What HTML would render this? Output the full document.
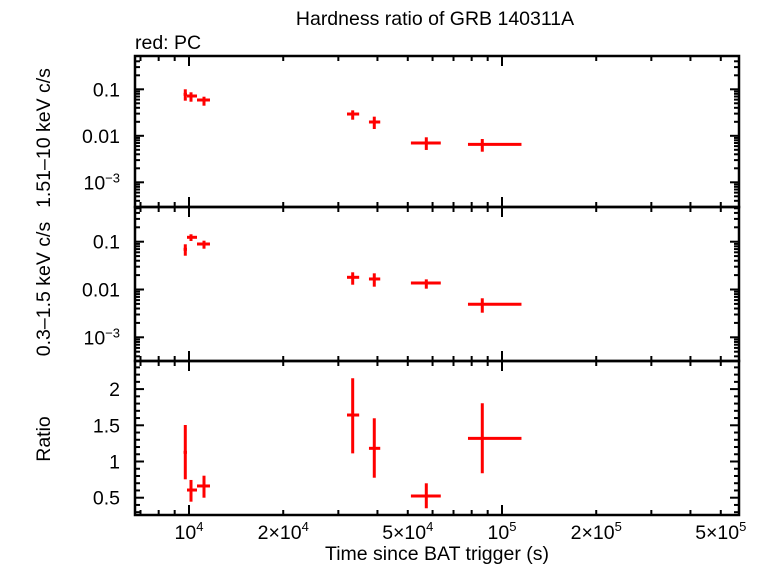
<!DOCTYPE html>
<html><head><meta charset="utf-8"><style>
html,body{margin:0;padding:0;background:#fff}
svg{display:block;font-family:"Liberation Sans",sans-serif}
</style></head><body>
<svg id="chart" width="761" height="566" viewBox="0 0 761 566" xmlns="http://www.w3.org/2000/svg">
<text x="435" y="25" font-size="19.5" text-anchor="middle">Hardness ratio of GRB 140311A</text>
<text x="135" y="49" font-size="19.5">red: PC</text>
<text transform="translate(50,138) rotate(-90)" font-size="19.5" text-anchor="middle">1.51–10 keV c/s</text>
<text transform="translate(50,289) rotate(-90)" font-size="19.5" text-anchor="middle">0.3–1.5 keV c/s</text>
<text transform="translate(50,439) rotate(-90)" font-size="19.5" text-anchor="middle">Ratio</text>
<text x="437" y="560" font-size="19.5" text-anchor="middle">Time since BAT trigger (s)</text>
<g id="g"></g>
</svg>
<script>
const times=[9731,10148,11166,33340,39080,57300,86500];
const timeLo=[9610,9854,10606,31970,37580,51170,77860];
const timeHi=[9854,10606,11669,34970,40830,63740,115400];
const hard=[0.078,0.0718,0.0589,0.0294,0.0198,0.0070,0.00656];
const hardLo=[0.0569,0.0541,0.0444,0.0222,0.0140,0.00496,0.00455];
const hardHi=[0.1,0.0862,0.0693,0.0353,0.0258,0.00929,0.00853];
const soft=[0.0693,0.1236,0.0895,0.018,0.0166,0.0137,0.0049];
const softLo=[0.0509,0.1035,0.0714,0.0126,0.01146,0.0104,0.00327];
const softHi=[0.0883,0.143,0.105,0.0229,0.0218,0.0163,0.00655];
const ratio=[1.127,0.606,0.662,1.642,1.182,0.523,1.32];
const ratioLo=[0.754,0.445,0.5,1.113,0.776,0.354,0.837];
const ratioHi=[1.504,0.745,0.804,2.149,1.597,0.699,1.804];
const xTickVals=[1e4,2e4,5e4,1e5,2e5,5e5];
const xTickLabels=[["10","4"],["2×10","4"],["5×10","4"],["10","5"],["2×10","5"],["5×10","5"]];
const logTickVals=[0.1,0.01,0.001];
const logTickLabels=["0.1","0.01","10^-3"];
const ratioTickVals=[0.5,1,1.5,2];
const ratioTickLabels=["0.5","1","1.5","2"];

const NS="http://www.w3.org/2000/svg";
const G=document.getElementById('g');
const L=135,R=739;
const P=[{t:56,b:207},{t:207,b:361},{t:361,b:515}];
const FS=19.5, SUP=13;
function X(t){return 189+(Math.log10(t)-4)*313;}
function Yh(v){return 89.3-(Math.log10(v)+1)*46.5;}
function Ys(v){return 241.7-(Math.log10(v)+1)*47.8;}
function Yr(v){return 497.7-(v-0.5)*72.4;}
function mk(tag,at){const e=document.createElementNS(NS,tag);for(const k in at)e.setAttribute(k,at[k]);G.appendChild(e);return e;}
function line(x1,y1,x2,y2,c,w){return mk('line',{x1,y1,x2,y2,stroke:c,'stroke-width':w});}

const xMinor=[];
for(let d=3;d<=5;d++)for(let m=1;m<10;m++){const v=m*Math.pow(10,d);const x=X(v);if(x>L+1&&x<R-1)xMinor.push(v);}
P.forEach((p,i)=>{
  xMinor.forEach(v=>{const x=X(v);const maj=(v===1e4||v===1e5);const len=maj?10:5;
    const a=line(x,p.t,x,p.t+len,'#000',2);
    const b=line(x,p.b,x,p.b-len,'#000',2);});
});
function logTicks(p,Yf){
  for(let d=-4;d<=0;d++)for(let m=1;m<10;m++){const v=m*Math.pow(10,d);const y=Yf(v);if(y<=p.t+1||y>=p.b-1)continue;const len=m===1?9:5;
    const a=line(L,y,L+len,y,'#000',2);
    const b=line(R,y,R-len,y,'#000',2);}
  logTickVals.forEach((v,i)=>{const y=Yf(v);const s=logTickLabels[i];
    const t=mk('text',{x:120,y:y+7,'font-size':FS,'text-anchor':'end'});
    
    if(s.indexOf('^')>=0){const [b,e]=s.split('^');t.textContent=b;const sp=document.createElementNS(NS,'tspan');sp.setAttribute('dy','-7');sp.setAttribute('font-size',SUP);sp.textContent=e.replace('-','−');t.appendChild(sp);}
    else t.textContent=s;});
}
logTicks(P[0],Yh);logTicks(P[1],Ys);
for(let k=3;k<=23;k++){const v=k/10;const y=Yr(v);if(y<=P[2].t+1||y>=P[2].b-1)continue;const maj=(k%5===0);const len=maj?9:5;
  const a=line(L,y,L+len,y,'#000',2);
  const b=line(R,y,R-len,y,'#000',2);}
ratioTickVals.forEach((v,i)=>{const t=mk('text',{x:120,y:Yr(v)+7,'font-size':FS,'text-anchor':'end'});t.textContent=ratioTickLabels[i];
  });
xTickVals.forEach((v,i)=>{const t=mk('text',{x:X(v),y:539,'font-size':FS,'text-anchor':'middle'});
  
  t.textContent=xTickLabels[i][0];const sp=document.createElementNS(NS,'tspan');sp.setAttribute('dy','-8');sp.setAttribute('font-size',SUP);sp.textContent=xTickLabels[i][1];t.appendChild(sp);});
P.forEach((p,i)=>{const r=mk('rect',{x:L,y:p.t,width:R-L,height:p.b-p.t,fill:'none',stroke:'#000','stroke-width':2.5});
  });
function series(vals,lo,hi,Yf,name){
  vals.forEach((v,i)=>{
    const g=mk('g',{});
    
    
    const x=X(times[i]),y=Yf(v);
    const h=document.createElementNS(NS,'line');h.setAttribute('x1',X(timeLo[i]));h.setAttribute('x2',X(timeHi[i]));h.setAttribute('y1',y);h.setAttribute('y2',y);h.setAttribute('stroke','#f00');h.setAttribute('stroke-width',3);g.appendChild(h);
    const w=document.createElementNS(NS,'line');w.setAttribute('x1',x);w.setAttribute('x2',x);w.setAttribute('y1',Yf(hi[i]));w.setAttribute('y2',Yf(lo[i]));w.setAttribute('stroke','#f00');w.setAttribute('stroke-width',3);g.appendChild(w);
  });
}
series(hard,hardLo,hardHi,Yh,'hard');
series(soft,softLo,softHi,Ys,'soft');
series(ratio,ratioLo,ratioHi,Yr,'ratio');
</script>
</body></html>
